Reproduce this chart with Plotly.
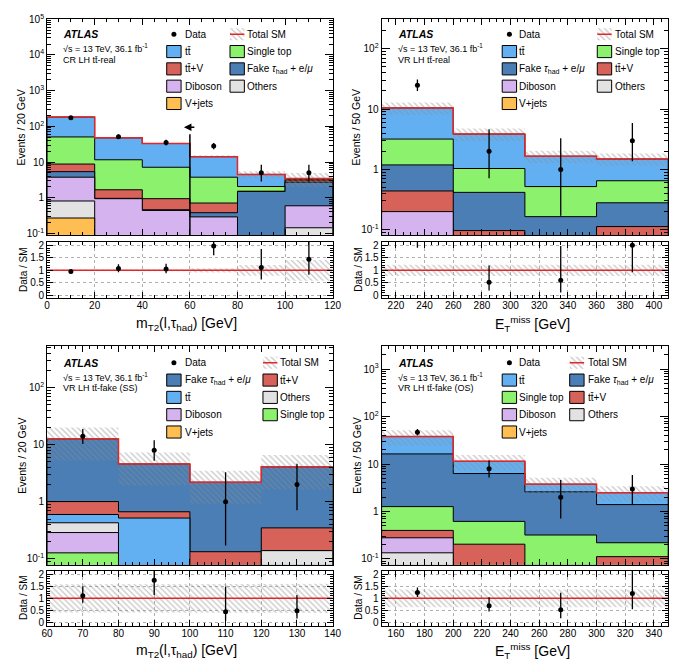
import numpy as np
import plotly.graph_objects as go

W, H = 686, 670
FONT = "Liberation Sans, Arial, Helvetica, sans-serif"

# ---------------- Panel A: CR LH tt-real, mT2 ----------------
a_edges = [0, 20, 40, 60, 80, 100, 120]
a_data = [173, 51, 35, 28, 5, 5]
a_vjets = [0.27, 0.02, 0.01, 0.01, 0.0, 0.0]
a_others = [0.54, 0.03, 0.02, 0.01, 0.0, 0.144]
a_diboson = [2.95, 0.89, 0.41, 0.27, 0.0, 0.45]
a_fake = [1.62, 0.02, 0.02, 0.09, 1.50, 2.14]
a_ttv = [3.4, 0.71, 0.48, 0.33, 0.02, 0.37]
a_singletop = [41.7, 9.9, 6.2, 3.05, 0.54, 0.2]
a_ttbar = [131.5, 36.0, 25.9, 10.4, 2.44, 0.15]
a_relunc = [0.03, 0.03, 0.035, 0.09, 0.22, 0.42]

# ---------------- Panel B: VR LH tt-real, ETmiss ----------------
b_edges = [210, 260, 310, 360, 410]
b_data = [25, 2, 1, 3]
b_vjets = [0.01, 0.0, 0.0, 0.0]
b_others = [0.02, 0.0, 0.0, 0.0]
b_diboson = [0.17, 0.01, 0.0, 0.0]
b_ttv = [0.24, 0.087, 0.02, 0.113]
b_fake = [0.75, 0.32, 0.145, 0.167]
b_singletop = [2.0, 0.62, 0.355, 0.37]
b_ttbar = [7.3, 2.83, 1.14, 0.84]
b_relunc = [0.23, 0.23, 0.23, 0.23]

# ---------------- Panel C: VR LH tt-fake (SS), mT2 ----------------
c_edges = [60, 80, 100, 120, 140]
c_data = [14, 8, 1, 2]
c_vjets = [0.0, 0.0, 0.0, 0.0]
c_singletop = [0.128, 0.0, 0.0, 0.0]
c_diboson = [0.162, 0.0, 0.0, 0.0]
c_others = [0.14, 0.0, 0.0, 0.14]
c_ttbar = [0.17, 0.52, 0.0, 0.0]
c_ttv = [0.41, 0.15, 0.134, 0.21]
c_fake = [11.6, 3.93, 2.07, 3.75]
c_relunc = [0.58, 0.58, 0.58, 0.60]

# ---------------- Panel D: VR LH tt-fake (OS), ETmiss ----------------
d_edges = [150, 200, 250, 300, 350]
d_data = [47, 8, 2, 3]
d_vjets = [0.0, 0.0, 0.0, 0.0]
d_others = [0.135, 0.0, 0.0, 0.0]
d_diboson = [0.145, 0.0, 0.0, 0.0]
d_ttv = [0.12, 0.205, 0.02, 0.112]
d_singletop = [0.87, 0.415, 0.30, 0.108]
d_fake = [15.1, 5.7, 2.28, 1.18]
d_ttbar = [21.6, 5.1, 1.17, 1.1]
d_relunc = [0.36, 0.36, 0.36, 0.36]

COLORS = {
    "ttbar": "#62b0f2",
    "singletop": "#8cf16c",
    "ttv": "#d6625a",
    "fake": "#4a7eb4",
    "diboson": "#d5b3ef",
    "others": "#e2e2e2",
    "vjets": "#ffbe52",
}
LABELS = {
    "data": "Data",
    "total": "Total SM",
    "ttbar": "t\u0074\u0304",
    "singletop": "Single top",
    "ttv": "t\u0074\u0304+V",
    "fake": "Fake <i>\u03c4</i><sub>had</sub> + e/<i>\u03bc</i>",
    "diboson": "Diboson",
    "others": "Others",
    "vjets": "V+jets",
}
RED = "#e3262a"
HATCH = "#8c8c8c"

MT2 = "m<sub>T2</sub>(l,\u03c4<sub>had</sub>) [GeV]"
MET = "E<sub>T</sub><sup>miss</sup> [GeV]"

panels = [
    dict(edges=a_edges, data=a_data, relunc=a_relunc,
         comps=dict(vjets=a_vjets, others=a_others, diboson=a_diboson, fake=a_fake,
                    ttv=a_ttv, singletop=a_singletop, ttbar=a_ttbar),
         order=["vjets", "others", "diboson", "fake", "ttv", "singletop", "ttbar"],
         xr=[0, 120], xt0=0, xd=20, xm=5, yr=[-1.05, 5.0], ydec=range(-1, 6),
         col="L", row="T", region="CR LH t\u0074\u0304-real", xtitle=MT2, ytitle="Events / 20 GeV",
         leg1=["data", "ttbar", "ttv", "diboson", "vjets"], leg2=["total", "singletop", "fake", "others"],
         lx=[164.3, 182.7, 229.0, 246.7]),
    dict(edges=b_edges, data=b_data, relunc=b_relunc,
         comps=dict(vjets=b_vjets, others=b_others, diboson=b_diboson, ttv=b_ttv,
                    fake=b_fake, singletop=b_singletop, ttbar=b_ttbar),
         order=["vjets", "others", "diboson", "ttv", "fake", "singletop", "ttbar"],
         xr=[210, 410], xt0=220, xd=20, xm=5, yr=[-1.09, 2.49], ydec=range(-1, 3),
         col="R", row="T", region="VR LH t\u0074\u0304-real", xtitle=MET, ytitle="Events / 50 GeV",
         leg1=["data", "ttbar", "fake", "diboson", "vjets"], leg2=["total", "singletop", "ttv", "others"],
         lx=[507.3, 524.7, 604.5, 623.0]),
    dict(edges=c_edges, data=c_data, relunc=c_relunc,
         comps=dict(vjets=c_vjets, singletop=c_singletop, diboson=c_diboson, others=c_others,
                    ttbar=c_ttbar, ttv=c_ttv, fake=c_fake),
         order=["vjets", "singletop", "diboson", "others", "ttbar", "ttv", "fake"],
         xr=[60, 140], xt0=60, xd=10, xm=2, yr=[-1.1, 2.72], ydec=range(-1, 3),
         col="L", row="B", region="VR LH t\u0074\u0304-fake (SS)", xtitle=MT2, ytitle="Events / 20 GeV",
         leg1=["data", "fake", "ttbar", "diboson", "vjets"], leg2=["total", "ttv", "others", "singletop"],
         lx=[164.3, 182.7, 262.7, 280.0]),
    dict(edges=d_edges, data=d_data, relunc=d_relunc,
         comps=dict(vjets=d_vjets, others=d_others, diboson=d_diboson, ttv=d_ttv,
                    singletop=d_singletop, fake=d_fake, ttbar=d_ttbar),
         order=["vjets", "others", "diboson", "ttv", "singletop", "fake", "ttbar"],
         xr=[150, 350], xt0=160, xd=20, xm=5, yr=[-1.12, 3.48], ydec=range(-1, 4),
         col="R", row="B", region="VR LH t\u0074\u0304-fake (OS)", xtitle=MET, ytitle="Events / 50 GeV",
         leg1=["data", "ttbar", "singletop", "diboson", "vjets"], leg2=["total", "fake", "ttv", "others"],
         lx=[507.3, 524.7, 576.3, 594.7]),
]

# pixel geometry of frames
XPIX = {"L": (42, 334), "R": (384, 677)}
MAINPIX = {"T": (12.5, 232), "B": (345, 567)}
RATIOPIX = {"T": (239, 296), "B": (573, 629)}
ROWY0 = {"T": 27.7, "B": 361.7}
TXT_PAD = 3  # annotation inner padding compensation


def xdom(p):
    return [p[0] / W, p[1] / W]


def ydom(p):
    return [(H - p[1]) / H, (H - p[0]) / H]


def garwood(n):
    n = float(n)
    lo = 0.0 if n == 0 else n * (1 - 1 / (9 * n) - 1 / (3 * np.sqrt(n))) ** 3
    hi = (n + 1) * (1 - 1 / (9 * (n + 1)) + 1 / (3 * np.sqrt(n + 1))) ** 3
    return n - lo, hi - n


def steps(edges, vals):
    xs, ys = [], []
    for i, v in enumerate(vals):
        xs += [edges[i], edges[i + 1]]
        ys += [v, v]
    return xs, ys


FLOOR = 1e-4
fig = go.Figure()
annotations = []
shapes = []

axis_common = dict(showline=True, linecolor="black", linewidth=1, mirror="allticks",
                   ticks="inside", tickcolor="black", zeroline=False, showgrid=False,
                   tickfont=dict(family=FONT, size=10, color="black"))

for i, P in enumerate(panels):
    m = 2 * i + 1
    r = 2 * i + 2
    xm_name, ym_name = f"x{m}", f"y{m}"
    xr_name, yr_name = f"x{r}", f"y{r}"
    edges = P["edges"]
    nb = len(edges) - 1
    centers = [(edges[k] + edges[k + 1]) / 2 for k in range(nb)]

    # cumulative stack
    cum = np.zeros(nb)
    layers = []
    for p in P["order"]:
        cum = cum + np.array(P["comps"][p], float)
        layers.append((p, cum.copy()))
    total = cum.copy()

    for p, c in reversed(layers):
        sx, sy = steps(edges, np.maximum(c, FLOOR))
        fig.add_trace(go.Scatter(
            x=[edges[0]] + sx + [edges[-1]], y=[FLOOR] + sy + [FLOOR],
            fill="toself", fillcolor=COLORS[p], mode="lines",
            line=dict(color="black", width=1), xaxis=xm_name, yaxis=ym_name,
            hoverinfo="skip"))

    unc = np.array(P["relunc"])
    sx, su = steps(edges, total * (1 + unc))
    _, sl = steps(edges, total * (1 - unc))
    fig.add_trace(go.Scatter(
        x=sx + sx[::-1], y=su + sl[::-1], fill="toself", mode="lines",
        fillcolor="rgba(0,0,0,0)", line=dict(width=0),
        fillpattern=dict(shape="\\", fgcolor=HATCH, size=4, solidity=0.3),
        xaxis=xm_name, yaxis=ym_name, hoverinfo="skip"))

    tx, ty = steps(edges, total)
    fig.add_trace(go.Scatter(x=tx, y=ty, mode="lines", line=dict(color=RED, width=1.5),
                             xaxis=xm_name, yaxis=ym_name, hoverinfo="skip"))

    errs = [garwood(n) for n in P["data"]]
    elo = [e[0] for e in errs]
    ehi = [e[1] for e in errs]
    fig.add_trace(go.Scatter(
        x=centers, y=P["data"], mode="markers",
        marker=dict(color="black", size=5),
        error_y=dict(type="data", array=ehi, arrayminus=elo, color="black", thickness=1.3, width=0),
        xaxis=xm_name, yaxis=ym_name))

    # ratio
    rx, ru = steps(edges, 1 + unc)
    _, rl = steps(edges, 1 - unc)
    fig.add_trace(go.Scatter(
        x=rx + rx[::-1], y=ru + rl[::-1], fill="toself", mode="lines",
        fillcolor="rgba(0,0,0,0)", line=dict(width=0),
        fillpattern=dict(shape="\\", fgcolor=HATCH, size=4, solidity=0.3),
        xaxis=xr_name, yaxis=yr_name, hoverinfo="skip"))
    fig.add_trace(go.Scatter(x=[edges[0], edges[-1]], y=[1, 1], mode="lines",
                             line=dict(color=RED, width=1.5), xaxis=xr_name, yaxis=yr_name))
    ratio = np.array(P["data"], float) / total
    fig.add_trace(go.Scatter(
        x=centers, y=ratio, mode="markers", marker=dict(color="black", size=5),
        error_y=dict(type="data", array=np.array(ehi) / total, arrayminus=np.array(elo) / total,
                     color="black", thickness=1.3, width=0),
        xaxis=xr_name, yaxis=yr_name))

    # axes
    xd = xdom(XPIX[P["col"]])
    decs = list(P["ydec"])
    ytv = [10.0 ** k for k in decs]
    ytt = [("1" if k == 0 else "10" if k == 1 else f"10<sup>{k}</sup>") for k in decs]
    minor_vals = [mm * 10.0 ** k for k in range(decs[0] - 1, decs[-1] + 1) for mm in range(2, 10)]
    fig.update_layout(**{
        f"xaxis{m}": dict(axis_common, domain=xd, range=P["xr"], anchor=ym_name,
                          tickmode="linear", tick0=P["xt0"], dtick=P["xd"], ticklen=6,
                          showticklabels=False,
                          minor=dict(ticks="inside", ticklen=3, dtick=P["xm"], tickcolor="black")),
        f"yaxis{m}": dict(axis_common, domain=ydom(MAINPIX[P["row"]]), type="log", range=P["yr"],
                          anchor=xm_name, tickmode="array", tickvals=ytv, ticktext=ytt, ticklen=8,
                          minor=dict(ticks="inside", ticklen=4, tickmode="array", tickvals=minor_vals,
                                     tickcolor="black")),
        f"xaxis{r}": dict(axis_common, domain=xd, range=P["xr"], anchor=yr_name,
                          tickmode="linear", tick0=P["xt0"], dtick=P["xd"], ticklen=6,
                          ticklabelstandoff=-2,
                          showgrid=True, gridcolor="#b0b0b0", griddash="dot", gridwidth=1,
                          minor=dict(ticks="inside", ticklen=3, dtick=P["xm"], tickcolor="black")),
        f"yaxis{r}": dict(axis_common, domain=ydom(RATIOPIX[P["row"]]), range=[-0.12, 2.14],
                          anchor=xr_name, tickmode="array", tickvals=[0, 0.5, 1, 1.5, 2],
                          ticktext=["0", "0.5", "1", "1.5", "2"], ticklen=6,
                          showgrid=True, gridcolor="#b0b0b0", griddash="dot", gridwidth=1,
                          minor=dict(ticks="inside", ticklen=3, dtick=0.1, tickcolor="black")),
    })

    # titles
    xl, xrp = XPIX[P["col"]]
    mt, mb = MAINPIX[P["row"]]
    rt, rb = RATIOPIX[P["row"]]
    ytx = 15.7 if P["col"] == "L" else 358.0
    annotations.append(dict(x=ytx, y=(mt + mb) / 2, xref="x9", yref="y9", text=P["ytitle"],
                            textangle=-90, showarrow=False, font=dict(family=FONT, size=10.5, color="black")))
    annotations.append(dict(x=ytx + 1.5, y=(rt + rb) / 2, xref="x9", yref="y9", text="Data / SM",
                            textangle=-90, showarrow=False, font=dict(family=FONT, size=10, color="black")))
    annotations.append(dict(x=(xl + xrp) / 2 + (-3 if P["col"] == "L" else 8),
                            y=rb + 26, xref="x9", yref="y9", text=P["xtitle"],
                            showarrow=False, font=dict(family=FONT, size=14, color="black")))

    # ATLAS label
    ax0 = xl + 17.3 - TXT_PAD
    y0 = ROWY0[P["row"]]
    annotations.append(dict(x=ax0, y=y0, xref="x9", yref="y9", text="<b><i>ATLAS</i></b>", xanchor="left",
                            showarrow=False, font=dict(family=FONT, size=10.5, color="black")))
    annotations.append(dict(x=ax0, y=y0 + 14.3, xref="x9", yref="y9",
                            text="\u221as = 13 TeV, 36.1 fb<sup>-1</sup>", xanchor="left",
                            showarrow=False, font=dict(family=FONT, size=9, color="black")))
    annotations.append(dict(x=ax0, y=y0 + 26.0, xref="x9", yref="y9", text=P["region"], xanchor="left",
                            showarrow=False, font=dict(family=FONT, size=9, color="black")))

    # legend
    b1, t1, b2, t2 = P["lx"]
    bw, bh, dy = 14.7, 12.3, 17.6
    for col_entries, bx, tx0 in ((P["leg1"], b1, t1), (P["leg2"], b2, t2)):
        for k, key in enumerate(col_entries):
            yy = y0 + k * dy
            if key == "data":
                fig.add_trace(go.Scatter(x=[bx + bw / 2], y=[yy], mode="markers",
                                         marker=dict(color="black", size=5), xaxis="x9", yaxis="y9"))
            elif key == "total":
                fig.add_trace(go.Scatter(
                    x=[bx, bx + bw, bx + bw, bx, bx], y=[yy - bh / 2, yy - bh / 2, yy + bh / 2, yy + bh / 2, yy - bh / 2],
                    fill="toself", mode="lines", fillcolor="rgba(0,0,0,0)", line=dict(width=0),
                    fillpattern=dict(shape="\\", fgcolor=HATCH, size=4, solidity=0.3),
                    xaxis="x9", yaxis="y9"))
                shapes.append(dict(type="line", xref="x9", yref="y9", x0=bx, x1=bx + bw, y0=yy, y1=yy,
                                   line=dict(color=RED, width=1.5), layer="above"))
            else:
                shapes.append(dict(type="rect", xref="x9", yref="y9", x0=bx, x1=bx + bw,
                                   y0=yy - bh / 2, y1=yy + bh / 2, fillcolor=COLORS[key],
                                   line=dict(color="black", width=1), layer="above"))
            annotations.append(dict(x=tx0 - TXT_PAD + 1, y=yy, xref="x9", yref="y9", text=LABELS[key],
                                    xanchor="left", showarrow=False,
                                    font=dict(family=FONT, size=10, color="black")))

# cut line and arrow in panel A
cut_x = 60
fig.add_trace(go.Scatter(x=[cut_x, cut_x], y=[60, FLOOR], mode="lines",
                         line=dict(color="black", width=1.5), xaxis="x1", yaxis="y1", hoverinfo="skip"))
annotations.append(dict(x=57.5, y=np.log10(95), ax=62.5, ay=np.log10(95), xref="x1", yref="y1",
                        axref="x1", ayref="y1", text="", showarrow=True, arrowhead=2, arrowsize=1,
                        arrowwidth=1.5, arrowcolor="black"))

fig.update_layout(
    xaxis9=dict(domain=[0, 1], range=[0, W], visible=False, anchor="y9", fixedrange=True),
    yaxis9=dict(domain=[0, 1], range=[H, 0], visible=False, anchor="x9", fixedrange=True),
    width=W, height=H, margin=dict(l=0, r=0, t=0, b=0),
    paper_bgcolor="white", plot_bgcolor="rgba(0,0,0,0)",
    showlegend=False, annotations=annotations, shapes=shapes,
    font=dict(family=FONT, color="black"),
)

fig.write_html("out.html")
